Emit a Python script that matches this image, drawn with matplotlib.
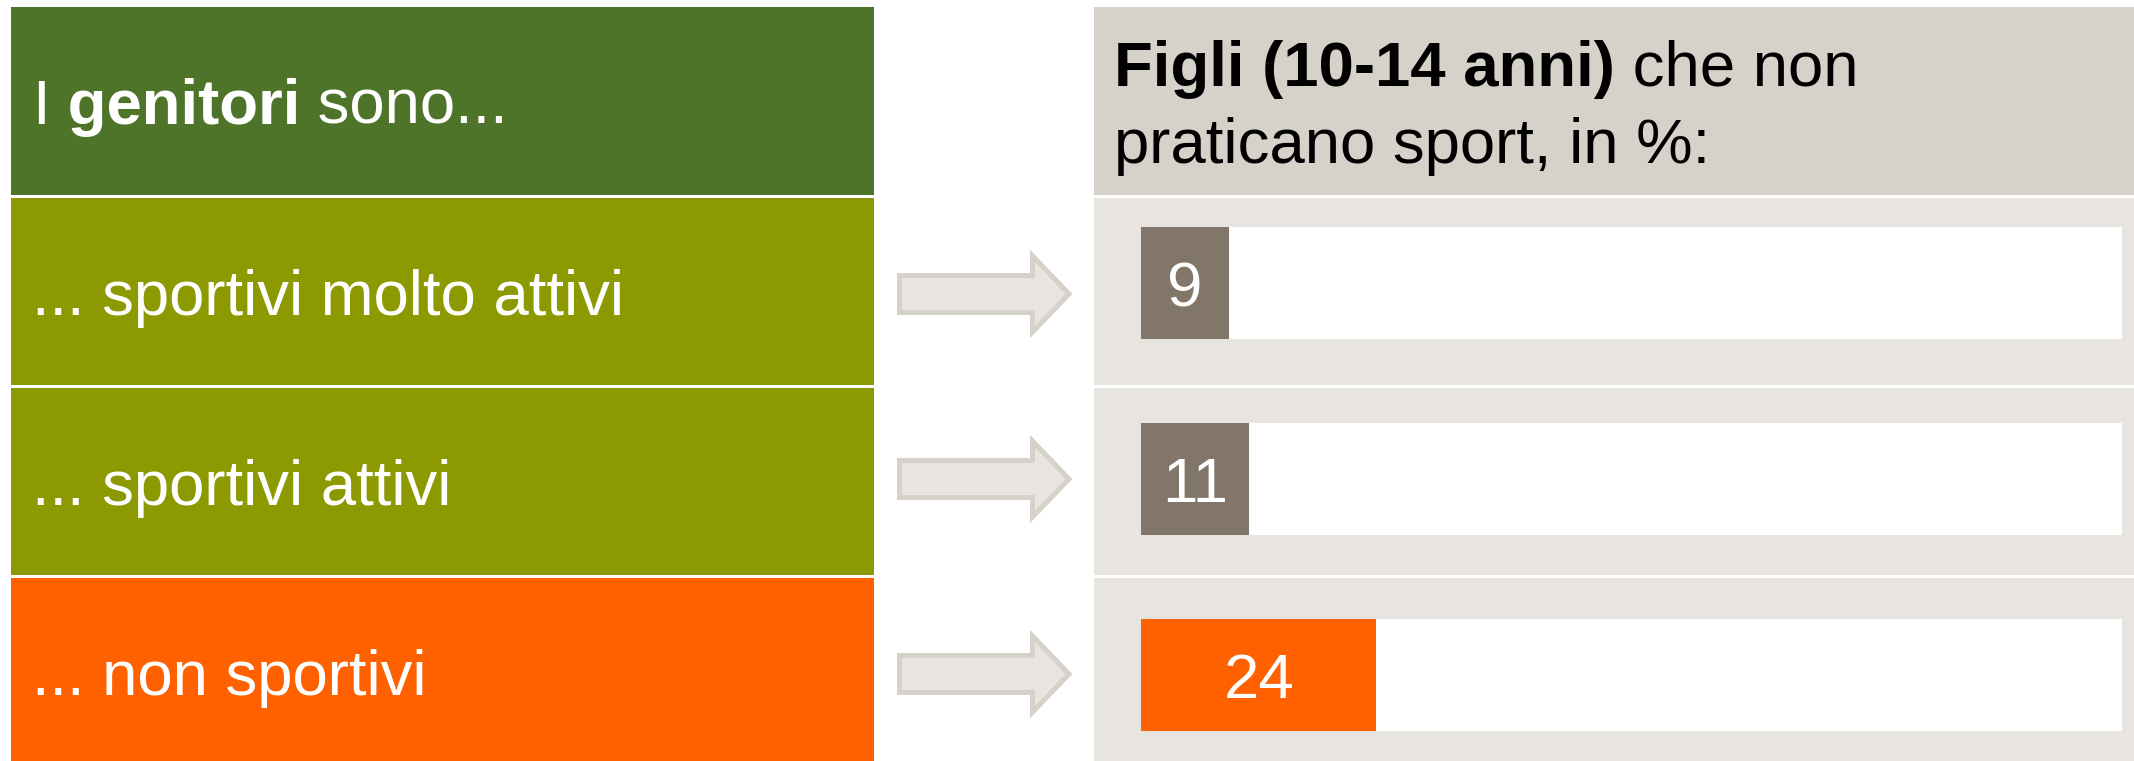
import matplotlib
matplotlib.use('Agg')
import matplotlib.pyplot as plt
from matplotlib.patches import Rectangle, Polygon

plt.rcParams['font.family'] = ['Liberation Sans', 'DejaVu Sans']

# data
row_labels = ['... sportivi molto attivi', '... sportivi attivi', '... non sportivi']
values = [9, 11, 24]
row_colors = ['#8C9900', '#8C9900', '#FF6000']
bar_colors = ['#82766A', '#82766A', '#FF6000']

W, H = 2134, 761
FS = 45.7

fig = plt.figure(figsize=(W / 100, H / 100), dpi=100)
bg = fig.add_axes([0, 0, 1, 1])
bg.set_xlim(0, W)
bg.set_ylim(H, 0)
bg.axis('off')

# left panel
bg.add_patch(Rectangle((11, 7), 863, 188, color='#4E742A', lw=0))
t = bg.text(32, 101, 'I', color='white', fontsize=FS, va='center_baseline', ha='left')
t = bg.annotate(' genitori', xy=(1, 0), xycoords=t, color='white', fontsize=FS,
                fontweight='bold', va='bottom', ha='left')
bg.annotate(' sono...', xy=(1, 0), xycoords=t, color='white', fontsize=FS,
            va='bottom', ha='left')

row_tops = [198, 388, 578]
row_h = 187
for top, lab, col in zip(row_tops, row_labels, row_colors):
    bg.add_patch(Rectangle((11, top), 863, row_h, color=col, lw=0))
    bg.text(32, top + row_h / 2, lab, color='white', fontsize=FS,
            va='center_baseline', ha='left')

# right panel
bg.add_patch(Rectangle((1094, 7), W - 1094, 188, color='#D6D1C9', lw=0))
t = bg.text(1114, 86, 'Figli (10-14 anni)', color='black', fontsize=FS,
            fontweight='bold', va='baseline', ha='left')
bg.annotate(' che non', xy=(1, 0), xycoords=t, color='black', fontsize=FS,
            va='bottom', ha='left')
bg.text(1114, 163, 'praticano sport, in %:', color='black', fontsize=FS,
        va='baseline', ha='left')
for top in row_tops:
    bg.add_patch(Rectangle((1094, top), W - 1094, row_h, color='#E8E5E0', lw=0))

# arrows
arrow_y = [294, 479, 674]
for y in arrow_y:
    pts = [(899.5, y - 18.5), (1032.5, y - 18.5), (1032.5, y - 38),
           (1069, y), (1032.5, y + 38), (1032.5, y + 18.5), (899.5, y + 18.5)]
    bg.add_patch(Polygon(pts, closed=True, facecolor='#E8E5E0',
                         edgecolor='#D6D1C9', lw=3.6, joinstyle='miter'))

# bars
x0, x1 = 1141, 2122
pitch = 196
y_top = 283 - pitch / 2
y_bot = 675 + pitch / 2
ax = fig.add_axes([x0 / W, (H - y_bot) / H, (x1 - x0) / W, (y_bot - y_top) / H])
ax.set_xlim(0, 100)
ax.set_ylim(2.5, -0.5)
ax.axis('off')
pos = range(len(values))
bh = 112 / pitch
ax.barh(pos, [100] * len(values), height=bh, color='white', lw=0)
ax.barh(pos, values, height=bh, color=bar_colors, lw=0)
for i, v in enumerate(values):
    ax.text(v / 2, i, str(v), color='white', fontsize=FS, ha='center',
            va='center_baseline')

fig.savefig('out.png', dpi=100)
